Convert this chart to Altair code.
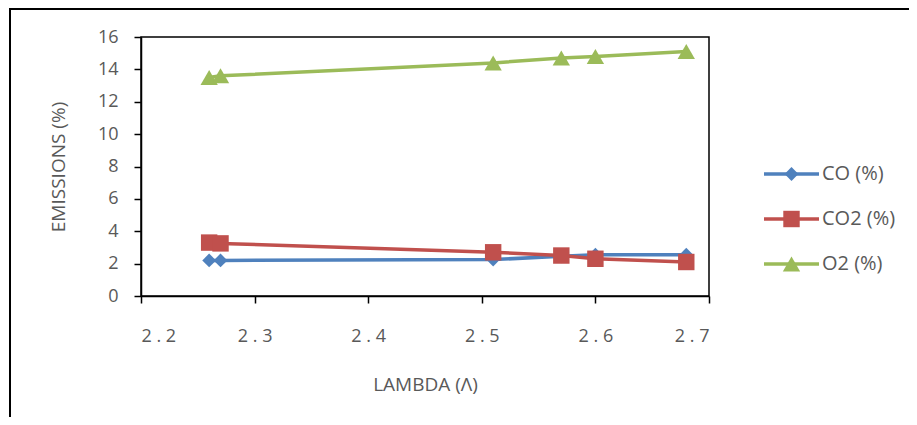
import altair as alt
import pandas as pd

# ---- data ----
lam = [2.26, 2.27, 2.51, 2.57, 2.60, 2.68]
co = [2.2, 2.2, 2.25, 2.45, 2.55, 2.55]
co2 = [3.3, 3.25, 2.7, 2.5, 2.3, 2.1]
o2 = [13.5, 13.6, 14.4, 14.7, 14.8, 15.1]
series = ["CO (%)", "CO2 (%)", "O2 (%)"]
x_ticks = [2.2, 2.3, 2.4, 2.5, 2.6, 2.7]
y_ticks = [0, 2, 4, 6, 8, 10, 12, 14, 16]

colors = ["#4F81BD", "#C0504D", "#9BBB59"]
shapes = ["diamond", "square", "triangle-up"]
sizes = [190, 270, 300]

rows = []
for name, vals in zip(series, [co, co2, o2]):
    for l, v in zip(lam, vals):
        rows.append({"lambda": l, "value": v, "series": name})
df = pd.DataFrame(rows)
leg = pd.DataFrame({"series": series})
one = pd.DataFrame({"a": [0]})

W, H = 568, 259
FONT = "Open Sans"
GREY = "#595959"

color = alt.Color("series:N", scale=alt.Scale(domain=series, range=colors), legend=None)
shape = alt.Shape("series:N", scale=alt.Scale(domain=series, range=shapes), legend=None)
size = alt.Size("series:N", scale=alt.Scale(type="ordinal", domain=series, range=sizes), legend=None)

x = alt.X(
    "lambda:Q",
    scale=alt.Scale(domain=[2.2, 2.7], nice=False, zero=False),
    axis=alt.Axis(
        values=x_ticks,
        labelExpr="replace(format(datum.value, '.1f'), '.', ' . ')",
        title="LAMBDA (Λ)",
        labelPadding=24,
        titleX=W / 2,
        titleY=88,
        titleBaseline="middle",
        titleAlign="center",
    ),
)
y = alt.Y(
    "value:Q",
    scale=alt.Scale(domain=[0, 16], nice=False),
    axis=alt.Axis(
        values=y_ticks,
        title="EMISSIONS (%)",
        labelPadding=16,
        titleX=-83,
        titleY=H / 2,
        titleAngle=270,
        titleBaseline="middle",
        titleAlign="center",
    ),
)

lines = alt.Chart(df).mark_line(strokeWidth=3.5).encode(
    x=x, y=y, color=color, detail="series:N"
)
points = alt.Chart(df).mark_point(filled=True, opacity=1).encode(
    x=x, y=y, color=color, shape=shape, size=size
)
main = alt.layer(lines, points)

ly = alt.Y(
    "series:N",
    scale=alt.Scale(type="point", domain=series, range=[137, 227], padding=0),
    axis=None,
)
leg_rule = alt.Chart(leg).mark_rule(strokeWidth=3.5).encode(
    x=alt.value(623), x2=alt.value(678), y=ly, color=color
)
leg_pt = alt.Chart(leg).mark_point(filled=True, opacity=1).encode(
    x=alt.value(650.5), y=ly, color=color, shape=shape, size=size
)
leg_txt = alt.Chart(leg).mark_text(
    align="left", baseline="middle", font=FONT, fontSize=20, color=GREY
).encode(x=alt.value(681), y=ly, text="series:N")
legend = alt.layer(leg_rule, leg_pt, leg_txt)

frame_left = alt.Chart(one).mark_rule(color="black", strokeWidth=2).encode(
    x=alt.value(-131), y=alt.value(-28), y2=alt.value(440)
)
frame_top = alt.Chart(one).mark_rule(color="black", strokeWidth=2).encode(
    x=alt.value(-132), x2=alt.value(800), y=alt.value(-28)
)

chart = (
    alt.layer(main, legend, frame_left, frame_top)
    .resolve_scale(y="independent")
    .properties(
        width=W,
        height=H,
        autosize=alt.AutoSizeParams(type="none"),
        padding={"left": 133, "top": 29, "right": 200, "bottom": 121},
    )
    .configure_view(stroke="black", strokeWidth=1.5)
    .configure_axis(
        grid=False,
        domainColor="black",
        domainWidth=1.5,
        tickColor="black",
        tickWidth=1.5,
        tickSize=7,
        labelColor=GREY,
        labelFont=FONT,
        labelFontSize=18,
        titleColor=GREY,
        titleFont=FONT,
        titleFontSize=19,
        titleFontWeight="normal",
    )
)

chart.save("out.html", embed_options={"renderer": "svg", "actions": False})
